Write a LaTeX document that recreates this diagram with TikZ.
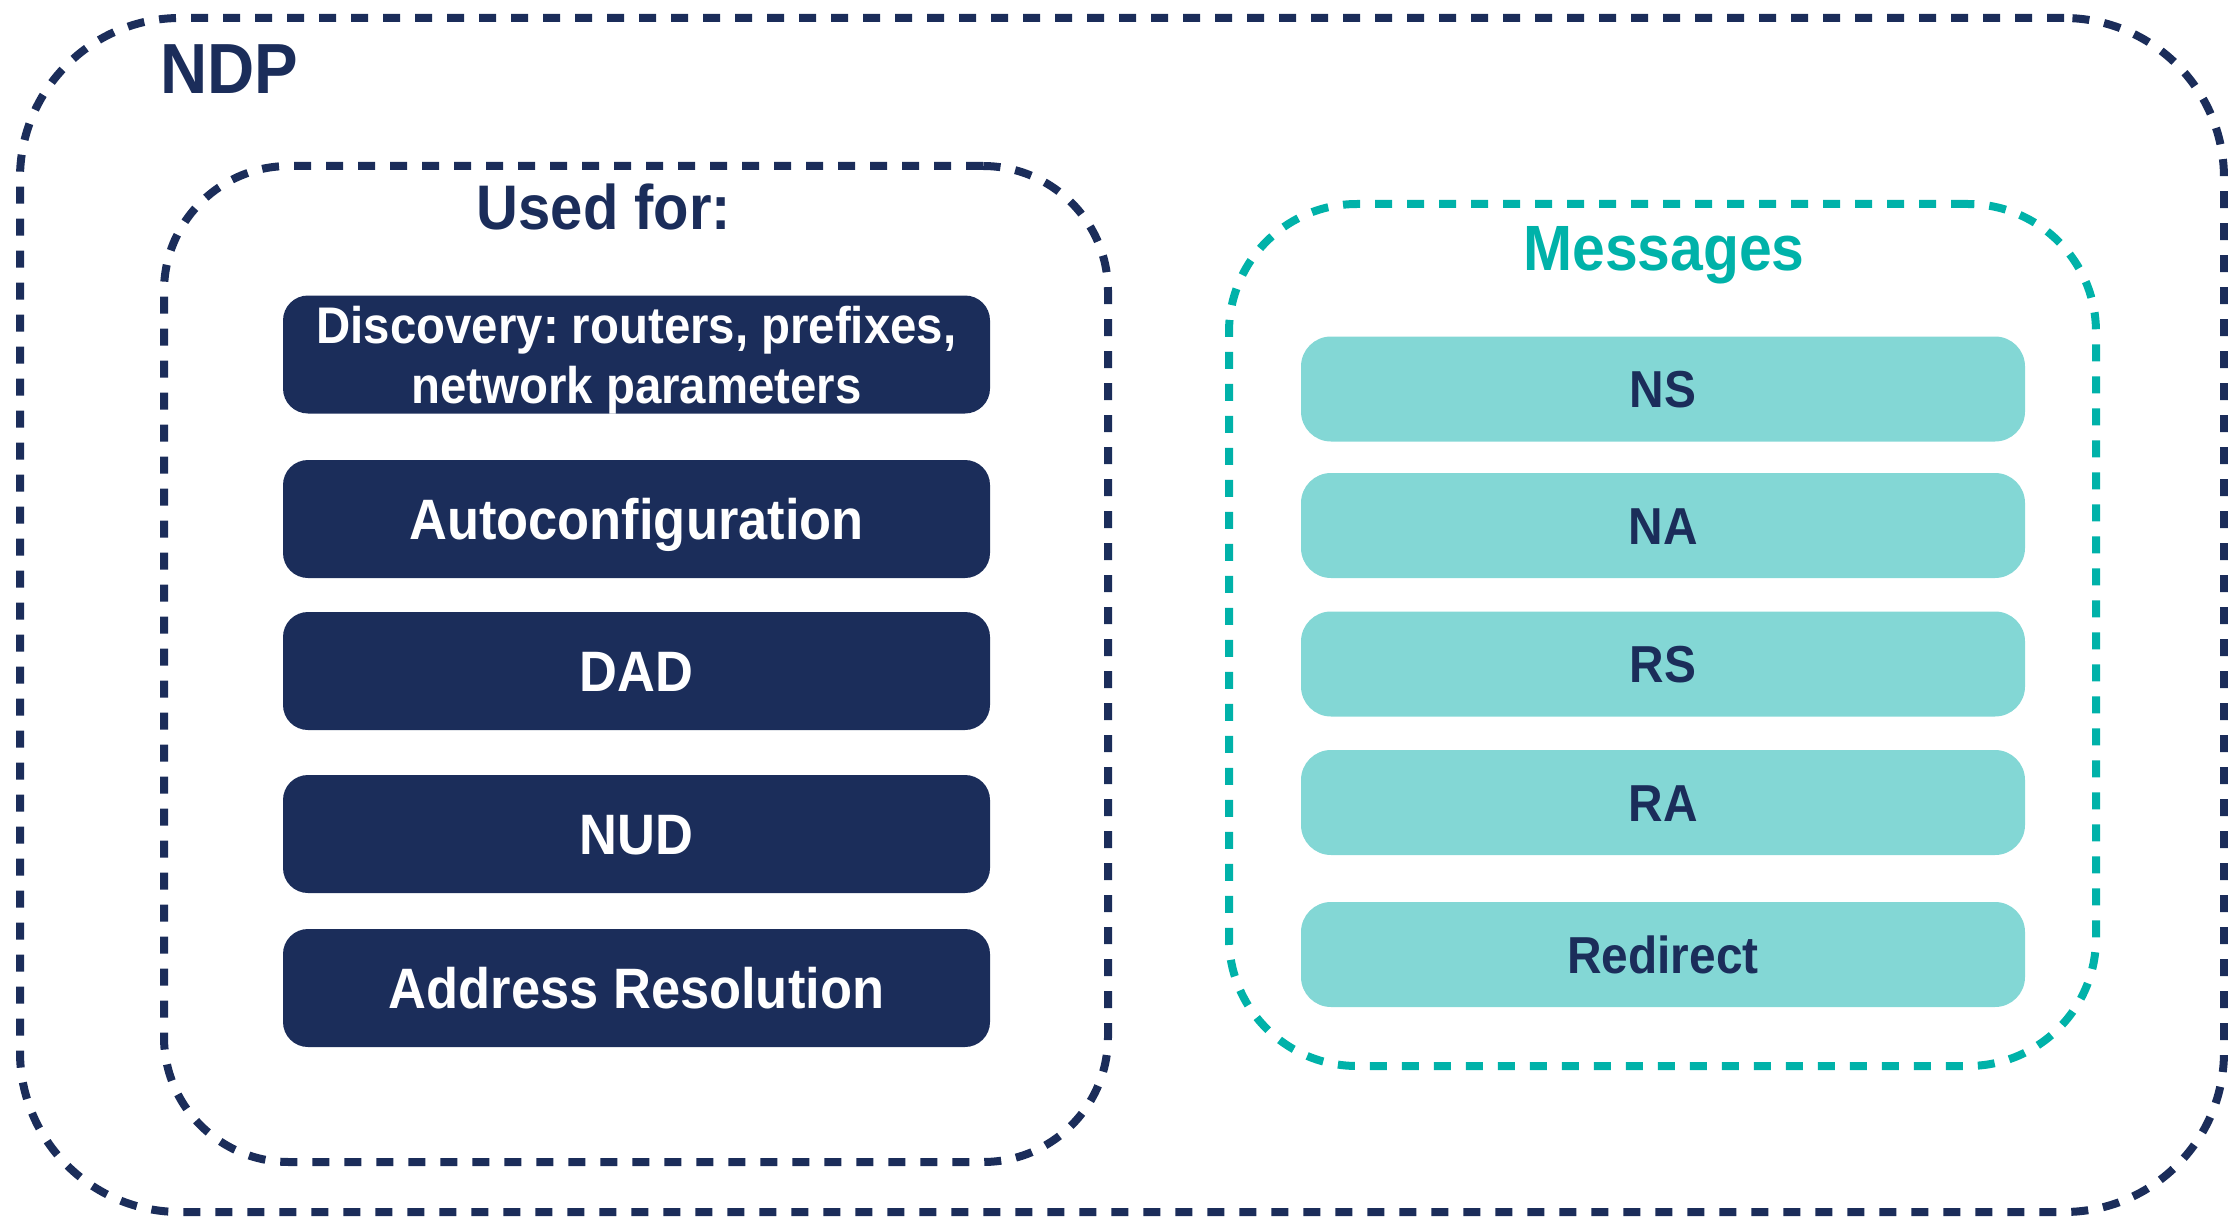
\documentclass[tikz,border=0pt]{standalone}
\usepackage{fontspec}
\setmainfont{Liberation Sans}[FakeStretch=0.92]
\definecolor{navy}{HTML}{1B2D5A}
\definecolor{tealdash}{HTML}{00B2A9}
\definecolor{lightteal}{HTML}{83D7D5}
\frenchspacing
\begin{document}
\begin{tikzpicture}[x=1pt,y=-1pt,
  container/.style={draw, line width=8pt, dash pattern=on 17pt off 15pt, rounded corners=#1, inner sep=0pt},
  usebox/.style={fill=navy, text=white, rounded corners=25pt, minimum width=707pt, minimum height=118pt, inner sep=0pt,
    font=\fontsize{57}{60}\selectfont\bfseries, text height=40.8pt, text depth=0pt},
  msgbox/.style={fill=lightteal, text=navy, rounded corners=30pt, minimum width=724pt, minimum height=105pt, inner sep=0pt,
    font=\fontsize{52}{56}\selectfont\bfseries, text height=37.2pt, text depth=0pt},
  title/.style={anchor=base, inner sep=0pt}
]
\useasboundingbox (0,0) rectangle (2228,1217);
% containers
\node[container=160pt, navy, minimum width=2204pt, minimum height=1194pt] (ndp) at (1122,615) {};
\node[container=125pt, navy, minimum width=944pt, minimum height=996pt] (usedfor) at (636,664) {};
\node[container=128pt, tealdash, minimum width=867pt, minimum height=862pt] (messages) at (1662.5,635) {};
% titles
\node[title, text=navy, font=\fontsize{71}{71}\selectfont\bfseries] (ndpt) at (229.5,94) {NDP};
\node[title, text=navy, font=\fontsize{63}{63}\selectfont\bfseries] (usedt) at (604,230) {Used for:};
\node[title, text=tealdash, font=\fontsize{64}{64}\selectfont\bfseries] (msgt) at (1664,270) {Messages};
% used-for boxes
\node[usebox, align=center, font=\fontsize{51.5}{60}\selectfont\bfseries, text height=97pt, text depth=0pt] (disc) at (636.5,354.5) {Discovery: routers, prefixes,\\network parameters};
\node[usebox] (auto) at (636.5,519) {Autoconfiguration};
\node[usebox] (dad) at (636.5,671) {DAD};
\node[usebox] (nud) at (636.5,834) {NUD};
\node[usebox] (addr) at (636.5,988) {Address Resolution};
% message boxes
\node[msgbox] (ns) at (1663,389) {NS};
\node[msgbox] (na) at (1663,525.5) {NA};
\node[msgbox] (rs) at (1663,664) {RS};
\node[msgbox] (ra) at (1663,802.5) {RA};
\node[msgbox] (redirect) at (1663,954.5) {Redirect};
\end{tikzpicture}
\end{document}
